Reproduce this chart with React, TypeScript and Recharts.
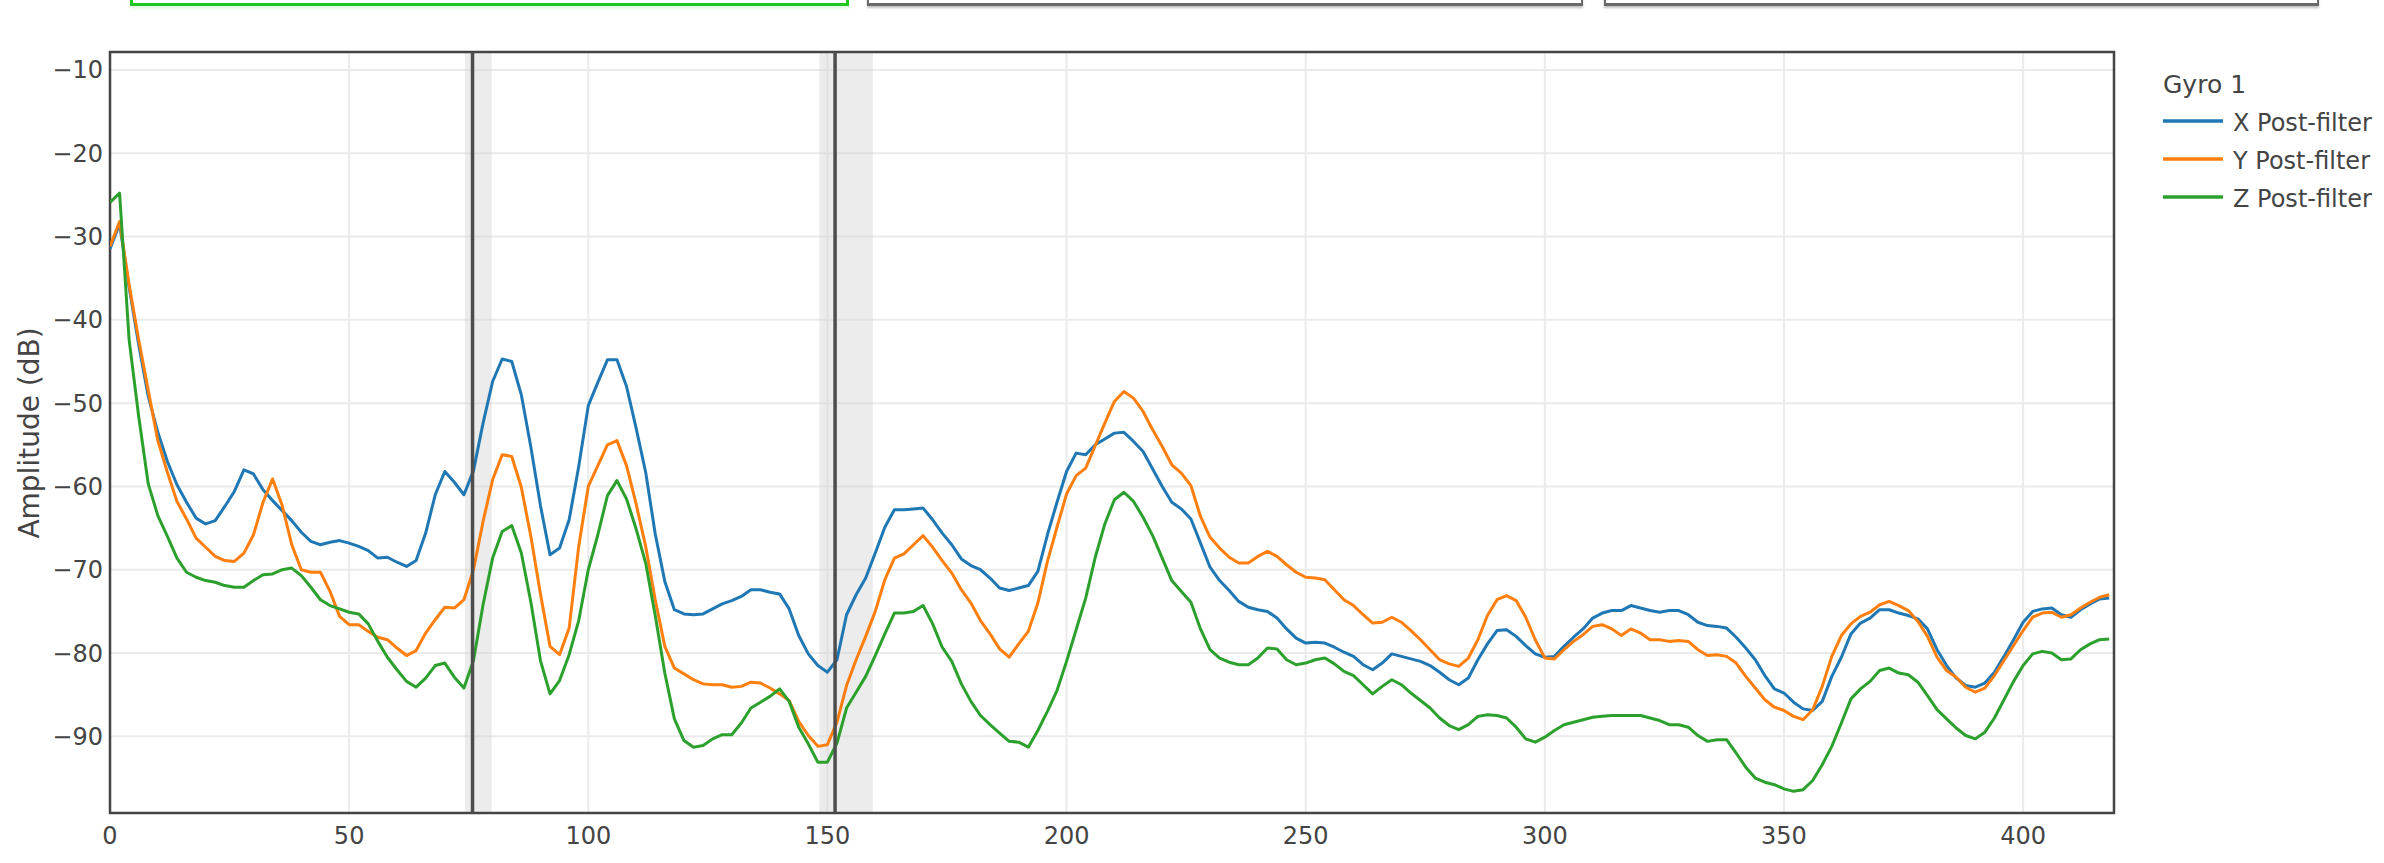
/* Gyro 1 post-filter spectrum, Recharts rebuild */

import {
  LineChart,
  Line,
  XAxis,
  YAxis,
  CartesianGrid,
  ReferenceArea,
  ReferenceLine,
} from 'recharts';

/* ── data ─────────────────────────────────────── */

const FREQ_HZ = [
  0, 2, 4, 6, 8, 10, 12, 14, 16, 18,
  20, 22, 24, 26, 28, 30, 32, 34, 36, 38,
  40, 42, 44, 46, 48, 50, 52, 54, 56, 58,
  60, 62, 64, 66, 68, 70, 72, 74, 76, 78,
  80, 82, 84, 86, 88, 90, 92, 94, 96, 98,
  100, 102, 104, 106, 108, 110, 112, 114, 116, 118,
  120, 122, 124, 126, 128, 130, 132, 134, 136, 138,
  140, 142, 144, 146, 148, 150, 152, 154, 156, 158,
  160, 162, 164, 166, 168, 170, 172, 174, 176, 178,
  180, 182, 184, 186, 188, 190, 192, 194, 196, 198,
  200, 202, 204, 206, 208, 210, 212, 214, 216, 218,
  220, 222, 224, 226, 228, 230, 232, 234, 236, 238,
  240, 242, 244, 246, 248, 250, 252, 254, 256, 258,
  260, 262, 264, 266, 268, 270, 272, 274, 276, 278,
  280, 282, 284, 286, 288, 290, 292, 294, 296, 298,
  300, 302, 304, 306, 308, 310, 312, 314, 316, 318,
  320, 322, 324, 326, 328, 330, 332, 334, 336, 338,
  340, 342, 344, 346, 348, 350, 352, 354, 356, 358,
  360, 362, 364, 366, 368, 370, 372, 374, 376, 378,
  380, 382, 384, 386, 388, 390, 392, 394, 396, 398,
  400, 402, 404, 406, 408, 410, 412, 414, 416, 418,
];

const GYRO_X = [
  -31.5, -28.5, -36.1, -43.0, -49.2, -53.5, -57.0, -59.8, -61.9, -63.8,
  -64.5, -64.1, -62.4, -60.6, -58.0, -58.5, -60.4, -61.7, -62.9, -64.1,
  -65.5, -66.6, -67.0, -66.7, -66.5, -66.8, -67.2, -67.7, -68.6, -68.5,
  -69.1, -69.6, -68.9, -65.6, -61.0, -58.2, -59.5, -61.0, -58.1, -52.4,
  -47.4, -44.7, -45.0, -49.0, -55.3, -62.3, -68.2, -67.4, -64.0, -57.6,
  -50.3, -47.5, -44.8, -44.8, -48.0, -53.0, -58.3, -65.7, -71.4, -74.8,
  -75.3, -75.4, -75.3, -74.7, -74.1, -73.7, -73.2, -72.4, -72.4, -72.7,
  -72.9, -74.7, -77.9, -80.1, -81.5, -82.3, -80.8, -75.4, -73.0, -71.0,
  -68.0, -64.9, -62.8, -62.8, -62.7, -62.6, -64.0, -65.6, -67.0, -68.7,
  -69.5, -70.0, -71.0, -72.2, -72.5, -72.2, -71.9, -70.2, -65.8, -61.9,
  -58.2, -56.0, -56.2, -55.0, -54.3, -53.6, -53.5, -54.6, -55.8, -57.9,
  -60.0, -61.9, -62.7, -63.9, -66.8, -69.7, -71.3, -72.5, -73.8, -74.5,
  -74.8, -75.0, -75.8, -77.1, -78.2, -78.8, -78.7, -78.8, -79.3, -79.9,
  -80.4, -81.4, -82.0, -81.2, -80.1, -80.4, -80.7, -81.0, -81.5, -82.3,
  -83.2, -83.8, -83.0, -80.8, -78.9, -77.3, -77.2, -78.0, -79.1, -80.1,
  -80.5, -80.4, -79.2, -78.1, -77.1, -75.8, -75.2, -74.9, -74.9, -74.3,
  -74.6, -74.9, -75.1, -74.9, -74.9, -75.4, -76.3, -76.7, -76.8, -77.0,
  -78.1, -79.4, -80.8, -82.7, -84.3, -84.8, -85.9, -86.7, -86.9, -85.8,
  -82.8, -80.5, -77.7, -76.4, -75.8, -74.8, -74.8, -75.2, -75.5, -75.9,
  -77.1, -79.6, -81.5, -83.0, -83.9, -84.1, -83.6, -82.3, -80.4, -78.4,
  -76.3, -75.0, -74.7, -74.6, -75.4, -75.7, -74.8, -74.1, -73.5, -73.4,
];

const GYRO_Y = [
  -31.2, -28.2, -35.8, -42.4, -48.5, -54.5, -58.3, -61.8, -63.9, -66.2,
  -67.3, -68.4, -68.9, -69.0, -68.0, -65.8, -61.9, -59.1, -62.3, -67.0,
  -70.0, -70.3, -70.3, -72.6, -75.6, -76.6, -76.6, -77.4, -78.1, -78.4,
  -79.4, -80.3, -79.7, -77.6, -76.0, -74.5, -74.6, -73.6, -70.0, -64.2,
  -59.2, -56.2, -56.4, -60.1, -66.0, -72.9, -79.2, -80.2, -77.0, -67.2,
  -60.0, -57.5, -55.0, -54.5, -57.5, -62.1, -67.2, -73.6, -79.2, -81.8,
  -82.5, -83.2, -83.7, -83.8, -83.8, -84.1, -84.0, -83.5, -83.6, -84.2,
  -84.9, -85.7, -88.2, -89.9, -91.2, -91.0, -88.3, -83.9, -80.8, -78.0,
  -75.0, -71.2, -68.6, -68.1, -67.0, -65.9, -67.3, -68.9, -70.4, -72.4,
  -74.0, -76.1, -77.7, -79.5, -80.5, -78.9, -77.4, -74.0, -69.0, -64.9,
  -60.9, -58.7, -57.8, -55.1, -52.4, -49.8, -48.6, -49.4, -51.0, -53.2,
  -55.2, -57.4, -58.4, -59.9, -63.6, -66.1, -67.4, -68.5, -69.2, -69.2,
  -68.4, -67.8, -68.4, -69.4, -70.3, -70.9, -71.0, -71.2, -72.4, -73.6,
  -74.3, -75.4, -76.4, -76.3, -75.7, -76.3, -77.3, -78.4, -79.6, -80.8,
  -81.3, -81.6, -80.6, -78.4, -75.5, -73.6, -73.1, -73.7, -75.7, -78.4,
  -80.6, -80.7, -79.6, -78.6, -77.8, -76.8, -76.6, -77.1, -77.9, -77.1,
  -77.6, -78.4, -78.4, -78.6, -78.5, -78.6, -79.6, -80.3, -80.2, -80.4,
  -81.2, -82.8, -84.2, -85.6, -86.5, -86.9, -87.6, -88.0, -86.8, -84.0,
  -80.4, -77.9, -76.5, -75.6, -75.1, -74.2, -73.8, -74.3, -74.9, -76.2,
  -78.0, -80.5, -82.1, -82.9, -84.1, -84.7, -84.2, -82.7, -80.9, -79.1,
  -77.3, -75.7, -75.2, -75.1, -75.7, -75.4, -74.6, -73.9, -73.3, -73.0,
];

const GYRO_Z = [
  -25.9, -24.8, -42.4, -51.6, -59.7, -63.5, -66.0, -68.6, -70.3, -70.9,
  -71.3, -71.5, -71.9, -72.1, -72.1, -71.3, -70.6, -70.5, -70.0, -69.8,
  -70.7, -72.1, -73.6, -74.3, -74.7, -75.1, -75.3, -76.5, -78.6, -80.5,
  -82.0, -83.4, -84.1, -83.0, -81.5, -81.2, -82.9, -84.2, -80.9, -74.2,
  -68.6, -65.4, -64.7, -68.0, -73.9, -80.9, -84.9, -83.3, -80.2, -76.1,
  -70.0, -65.8, -61.1, -59.3, -61.5, -65.1, -69.2, -75.5, -82.4, -87.9,
  -90.5, -91.3, -91.1, -90.3, -89.8, -89.8, -88.4, -86.6, -85.9, -85.2,
  -84.3, -85.8, -88.9, -90.9, -93.1, -93.1, -90.8, -86.6, -84.7, -82.8,
  -80.3, -77.7, -75.2, -75.2, -75.0, -74.3, -76.5, -79.3, -81.0, -83.7,
  -85.8, -87.5, -88.6, -89.6, -90.6, -90.7, -91.3, -89.3, -87.0, -84.5,
  -81.0, -77.2, -73.4, -68.5, -64.5, -61.6, -60.7, -61.8, -63.7, -65.9,
  -68.6, -71.3, -72.6, -73.9, -77.1, -79.6, -80.6, -81.1, -81.4, -81.4,
  -80.6, -79.4, -79.5, -80.8, -81.4, -81.2, -80.8, -80.6, -81.3, -82.2,
  -82.7, -83.8, -84.9, -84.0, -83.2, -83.8, -84.8, -85.7, -86.6, -87.8,
  -88.7, -89.2, -88.6, -87.6, -87.4, -87.5, -87.8, -88.9, -90.3, -90.7,
  -90.1, -89.3, -88.6, -88.3, -88.0, -87.7, -87.6, -87.5, -87.5, -87.5,
  -87.5, -87.8, -88.1, -88.6, -88.6, -88.9, -89.9, -90.6, -90.4, -90.4,
  -92.0, -93.7, -95.0, -95.5, -95.8, -96.3, -96.6, -96.4, -95.3, -93.4,
  -91.2, -88.4, -85.5, -84.3, -83.4, -82.1, -81.8, -82.4, -82.6, -83.5,
  -85.1, -86.8, -87.9, -89.0, -89.9, -90.3, -89.5, -87.8, -85.6, -83.4,
  -81.5, -80.1, -79.8, -80.0, -80.8, -80.7, -79.6, -78.9, -78.4, -78.3,
];

const SERIES_NAMES = ['X Post-filter', 'Y Post-filter', 'Z Post-filter'];
const SERIES_KEYS = ['x', 'y', 'z'];
const SERIES_COLORS = ['#1f77b4', '#ff7f0e', '#2ca02c'];

const X_TICKS = [0, 50, 100, 150, 200, 250, 300, 350, 400];
const Y_TICKS = [-90, -80, -70, -60, -50, -40, -30, -20, -10];

// marker lines and the shaded bands around them (Hz)
const MARKER_HZ = [75.8, 151.6];
const BAND_START_HZ = [74.2, 148.3];
const BAND_END_HZ = [79.8, 159.5];

const rows = FREQ_HZ.map((f, i) => ({ f, x: GYRO_X[i], y: GYRO_Y[i], z: GYRO_Z[i] }));

/* ── styling ──────────────────────────────────── */

const FONT = '"DejaVu Sans", Verdana, sans-serif';
const INK = '#444';

const minus = (v: number) => String(v).replace('-', '\u2212');

// axis title + legend, drawn over the chart in page coordinates
function Overlay() {
  return (
    <svg
      width={2384}
      height={863}
      style={{ position: 'absolute', left: 0, top: 0, pointerEvents: 'none' }}
    >
      <text
        x={29}
        y={433}
        transform="rotate(-90 29 433)"
        textAnchor="middle"
        dominantBaseline="central"
        style={{ fill: INK, fontFamily: FONT, fontSize: '28px' }}
      >
        Amplitude (dB)
      </text>
      <text x={2163} y={93} style={{ fill: INK, fontFamily: FONT, fontSize: '25px' }}>
        Gyro 1
      </text>
      {SERIES_NAMES.map((name, i) => {
        const y = 121 + i * 38;
        return (
          <g key={name}>
            <line x1={2163} x2={2223} y1={y} y2={y} stroke={SERIES_COLORS[i]} strokeWidth={3.5} />
            <text x={2233} y={y + 10} style={{ fill: INK, fontFamily: FONT, fontSize: '24px' }}>
              {name}
            </text>
          </g>
        );
      })}
    </svg>
  );
}

// the cropped tab buttons peeking in at the top edge
const TAB_LEFT = [130, 867, 1604];
const TAB_WIDTH = [719, 716, 715];

function TabStubs() {
  return (
    <>
      {TAB_LEFT.map((left, i) => (
        <div
          key={left}
          style={{
            position: 'absolute',
            left,
            top: -40,
            width: TAB_WIDTH[i],
            height: 46,
            boxSizing: 'border-box',
            border: i === 0 ? '3px solid #1ec81e' : '2px solid #6a6a6a',
            borderBottomWidth: 3,
            background: '#fff',
            boxShadow: i === 0 ? '0 2px 4px rgba(30,200,30,0.15)' : '0 2px 2px rgba(0,0,0,0.25)',
          }}
        />
      ))}
    </>
  );
}

export default function App() {
  return (
    <div
      style={{
        position: 'absolute',
        left: 0,
        top: 0,
        width: 2384,
        height: 863,
        background: '#fff',
        overflow: 'hidden',
      }}
    >
      <TabStubs />
      <LineChart
        width={2384}
        height={863}
        data={rows}
        margin={{ top: 52, right: 270, bottom: 10, left: 10 }}
      >
        <CartesianGrid stroke="#ebebeb" strokeWidth={2} />
        <XAxis
          dataKey="f"
          type="number"
          domain={[0, 419]}
          ticks={X_TICKS}
          allowDataOverflow
          height={40}
          tickLine={false}
          tickSize={0}
          tickMargin={14}
          axisLine={false}
          tick={{ fill: INK, fontFamily: FONT, fontSize: 24 }}
        />
        <YAxis
          type="number"
          domain={[-99.2, -7.85]}
          ticks={Y_TICKS}
          allowDataOverflow
          width={100}
          tickLine={false}
          tickSize={0}
          tickMargin={7}
          axisLine={false}
          tickFormatter={minus}
          tick={{ fill: INK, fontFamily: FONT, fontSize: 24 }}
        />
        {SERIES_KEYS.map((key, i) => (
          <Line
            key={key}
            type="linear"
            dataKey={key}
            name={SERIES_NAMES[i]}
            stroke={SERIES_COLORS[i]}
            strokeWidth={3}
            strokeLinejoin="round"
            dot={false}
            activeDot={false}
            isAnimationActive={false}
          />
        ))}
        {MARKER_HZ.map((hz, i) => (
          <ReferenceArea
            key={`band-${hz}`}
            x1={BAND_START_HZ[i]}
            x2={BAND_END_HZ[i]}
            y1={-99.2}
            y2={-7.85}
            fill="#cfcfcf"
            fillOpacity={0.4}
            stroke="none"
          />
        ))}
        {MARKER_HZ.map((hz) => (
          <ReferenceLine key={`mark-${hz}`} x={hz} stroke="#4d4d4d" strokeWidth={3.5} />
        ))}
        <ReferenceArea
          x1={0}
          x2={419}
          y1={-99.2}
          y2={-7.85}
          fill="none"
          stroke={INK}
          strokeWidth={2.5}
        />
      </LineChart>
      <Overlay />
    </div>
  );
}
